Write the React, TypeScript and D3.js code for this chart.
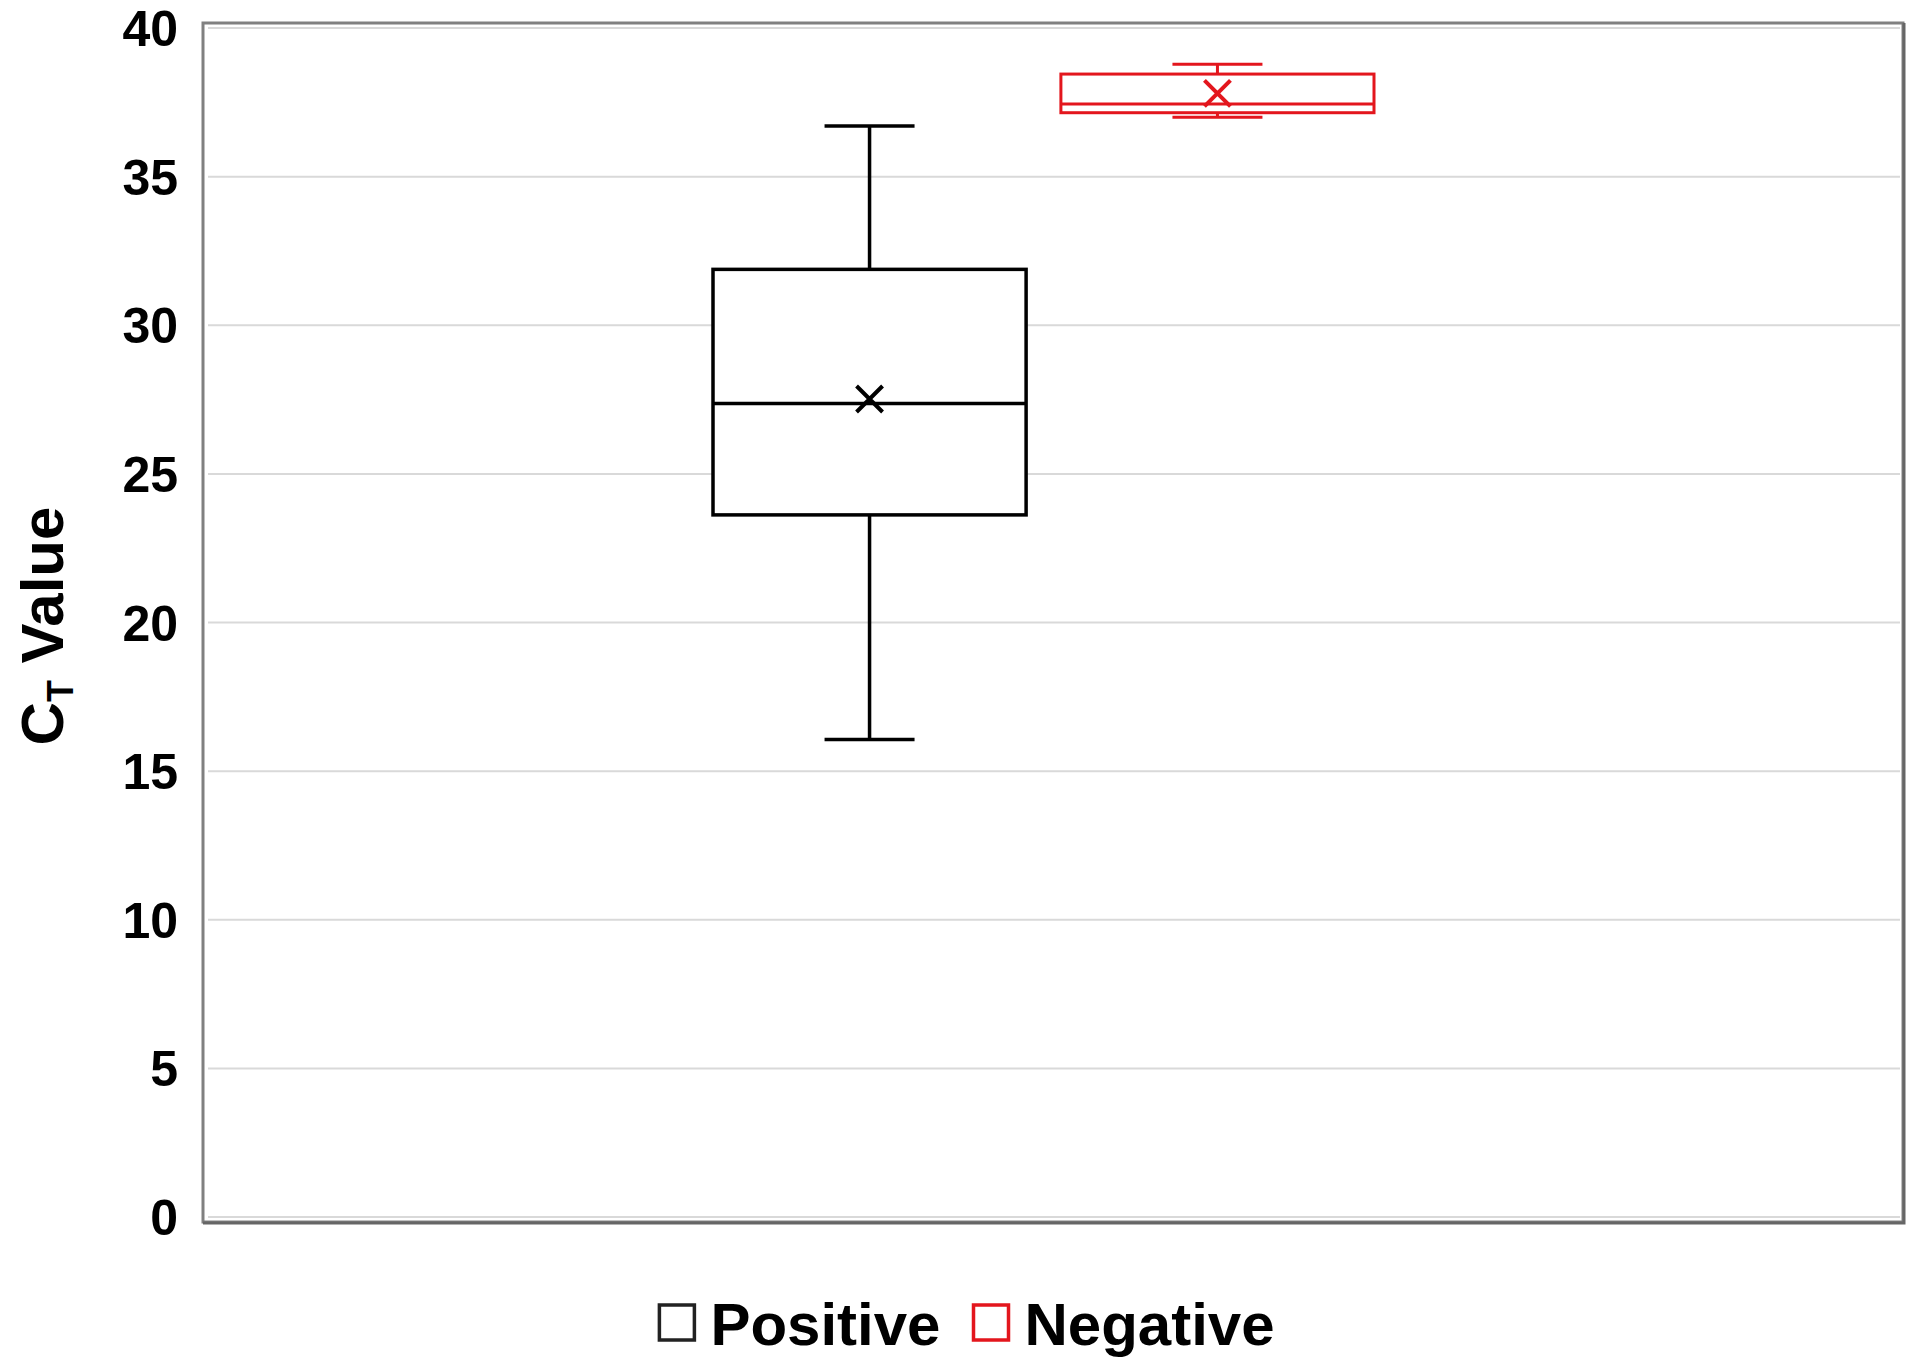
import React, { useEffect, useRef } from "react";
import * as d3 from "d3";

// box plot stats
const categories = ["Positive", "Negative"];
const seriesColors = ["#000000", "#e3161d"];
const whiskerLow = [16.06, 37.0];
const q1 = [23.62, 37.15];
const median = [27.37, 37.44];
const q3 = [31.88, 38.45];
const whiskerHigh = [36.7, 38.78];
const mean = [27.52, 37.8];
const yTicks = [0, 5, 10, 15, 20, 25, 30, 35, 40];

const W = 1920;
const H = 1371;
const FONT = "'Liberation Sans', Arial, sans-serif";

const App = () => {
  const svgRef = useRef<SVGSVGElement>(null);

  useEffect(() => {
    const svg = d3.select(svgRef.current);
    svg.selectAll("*").remove();

    // plot area
    const plot = { left: 208, right: 1900, top: 28, bottom: 1217 };

    const y = d3.scaleLinear().domain([0, 40]).range([plot.bottom, plot.top]);

    // the two boxes sit side by side inside the single category
    const x = d3
      .scaleBand()
      .domain(categories)
      .range([713, 1374])
      .paddingInner(0.1)
      .paddingOuter(0);

    svg.append("rect").attr("width", W).attr("height", H).attr("fill", "#fff");

    // gridlines
    svg
      .append("g")
      .selectAll("line")
      .data(yTicks)
      .enter()
      .append("line")
      .attr("x1", plot.left)
      .attr("x2", plot.right)
      .attr("y1", (d) => y(d))
      .attr("y2", (d) => y(d))
      .attr("stroke", "#d9d9d9")
      .attr("stroke-width", 2);

    // frame
    svg
      .append("rect")
      .attr("x", 203)
      .attr("y", 23)
      .attr("width", 1700)
      .attr("height", 1199)
      .attr("fill", "none")
      .attr("stroke", "#808080")
      .attr("stroke-width", 3);
    svg
      .append("path")
      .attr("d", `M${1904},23 V${1223} H203`)
      .attr("fill", "none")
      .attr("stroke", "#666")
      .attr("stroke-width", 3);

    // y tick labels
    svg
      .append("g")
      .selectAll("text")
      .data(yTicks)
      .enter()
      .append("text")
      .attr("x", 178)
      .attr("y", (d) => y(d))
      .attr("dy", "0.36em")
      .attr("text-anchor", "end")
      .style("font-family", FONT)
      .style("font-weight", "bold")
      .style("font-size", "50px")
      .style("fill", "#000")
      .text((d) => d);

    // y axis title with subscript T
    const title = svg
      .append("text")
      .attr("transform", `translate(63, 626) rotate(-90)`)
      .attr("text-anchor", "middle")
      .style("font-family", FONT)
      .style("font-weight", "bold")
      .style("font-size", "60px")
      .style("fill", "#000");
    title.append("tspan").text("C");
    title
      .append("tspan")
      .attr("dy", 10)
      .style("font-size", "36px")
      .text("T");
    title.append("tspan").attr("dy", -10).text(" Value");

    // boxes
    const capHalf = 45;
    const xHalf = 13;
    categories.forEach((cat, i) => {
      const g = svg.append("g");
      const color = seriesColors[i];
      const bx = x(cat);
      const bw = x.bandwidth();
      const cx = bx + bw / 2;
      const sw = i === 0 ? 3.5 : 3;

      // whiskers
      [
        [q3[i], whiskerHigh[i]],
        [q1[i], whiskerLow[i]],
      ].forEach(([a, b]) => {
        g.append("line")
          .attr("x1", cx)
          .attr("x2", cx)
          .attr("y1", y(a))
          .attr("y2", y(b))
          .attr("stroke", color)
          .attr("stroke-width", sw);
        g.append("line")
          .attr("x1", cx - capHalf)
          .attr("x2", cx + capHalf)
          .attr("y1", y(b))
          .attr("y2", y(b))
          .attr("stroke", color)
          .attr("stroke-width", sw);
      });

      g.append("rect")
        .attr("x", bx)
        .attr("y", y(q3[i]))
        .attr("width", bw)
        .attr("height", y(q1[i]) - y(q3[i]))
        .attr("fill", "#fff")
        .attr("stroke", color)
        .attr("stroke-width", sw);

      g.append("line")
        .attr("x1", bx)
        .attr("x2", bx + bw)
        .attr("y1", y(median[i]))
        .attr("y2", y(median[i]))
        .attr("stroke", color)
        .attr("stroke-width", sw);

      // mean marker
      const my = y(mean[i]);
      g.append("path")
        .attr(
          "d",
          `M${cx - xHalf},${my - xHalf}L${cx + xHalf},${my + xHalf}M${cx - xHalf},${my + xHalf}L${cx + xHalf},${my - xHalf}`
        )
        .attr("stroke", color)
        .attr("stroke-width", 4);
    });

    // legend, centred under the chart
    const legend = svg.append("g");
    const sq = 35;
    let cursor = 0;
    categories.forEach((cat, i) => {
      legend
        .append("rect")
        .attr("x", cursor)
        .attr("y", 1305)
        .attr("width", sq)
        .attr("height", sq)
        .attr("fill", "#fff")
        .attr("stroke", i === 0 ? "#222" : seriesColors[i])
        .attr("stroke-width", 3.5);
      const t = legend
        .append("text")
        .attr("x", cursor + sq + 16)
        .attr("y", 1345)
        .style("font-family", FONT)
        .style("font-weight", "bold")
        .style("font-size", "60px")
        .style("fill", "#000")
        .text(cat);
      const tw = (t.node() as SVGTextElement).getComputedTextLength();
      cursor += sq + 16 + tw + 33;
    });
    const legendWidth = cursor - 33;
    legend.attr("transform", `translate(${967 - legendWidth / 2},0)`);
  }, []);

  return (
    <svg
      ref={svgRef}
      width={W}
      height={H}
      style={{ position: "absolute", left: 0, top: 0 }}
    />
  );
};

export default App;
